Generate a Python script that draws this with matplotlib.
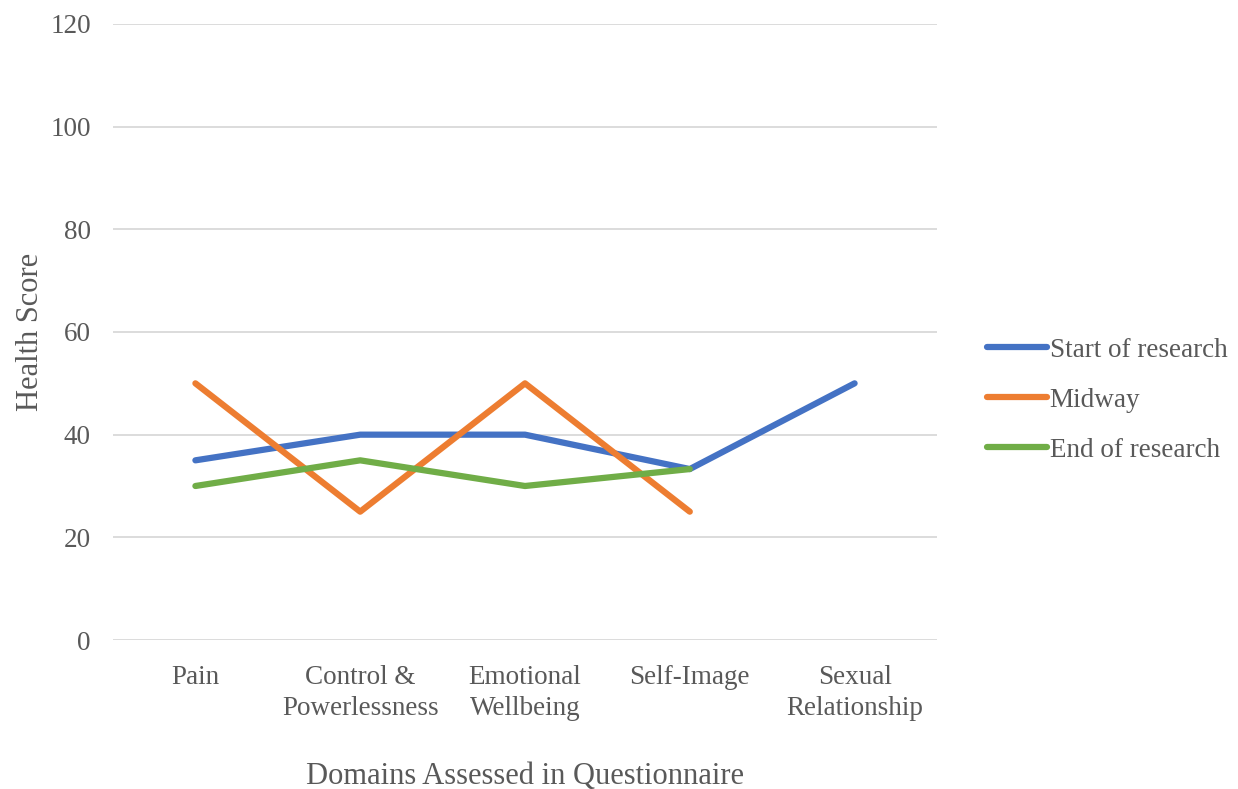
import numpy as np
import matplotlib.pyplot as plt

domains = ["Pain", "Control &\nPowerlessness", "Emotional\nWellbeing", "Self-Image", "Sexual\nRelationship"]
start_scores = [35, 40, 40, 33.3, 50]
midway_scores = [50, 25, 50, 25, np.nan]
end_scores = [30, 35, 30, 33.3, np.nan]
y_ticks = [0, 20, 40, 60, 80, 100, 120]

text_color = "#595959"
plt.rcParams["font.family"] = ["Liberation Serif", "DejaVu Serif"]

fig = plt.figure(figsize=(12.38, 7.89), dpi=100)
ax = fig.add_axes([113 / 1238, 1 - 640 / 789, 824 / 1238, 616 / 789])

x = np.arange(len(domains))
series = [
    ("Start of research", start_scores, "#4472C4"),
    ("Midway", midway_scores, "#ED7D31"),
    ("End of research", end_scores, "#70AD47"),
]
for label, vals, color in series:
    ax.plot(x, vals, color=color, lw=4.5, solid_capstyle="round",
            solid_joinstyle="round", label=label)

ax.set_xlim(-0.5, len(domains) - 0.5)
ax.set_ylim(0, 120)
ax.set_yticks(y_ticks)
ax.set_xticks(x)
ax.set_xticklabels(domains, linespacing=1.3)
ax.yaxis.grid(True, color="#D9D9D9", lw=1.3)
ax.set_axisbelow(True)
for s in ax.spines.values():
    s.set_visible(False)
ax.tick_params(axis="both", length=0, labelsize=19.5, colors=text_color)
ax.tick_params(axis="y", pad=16)
ax.tick_params(axis="x", pad=18)

ax.set_ylabel("Health Score", fontsize=22, color=text_color, labelpad=4)
ax.set_xlabel("Domains Assessed in Questionnaire", fontsize=22, color=text_color, labelpad=30)

ax.legend(loc="center left", bbox_to_anchor=(1.031, 0.389), frameon=False,
          fontsize=19.5, labelcolor=text_color, handlelength=2.2, handletextpad=0.12,
          labelspacing=0.92)

fig.savefig("out.png", dpi=100)
